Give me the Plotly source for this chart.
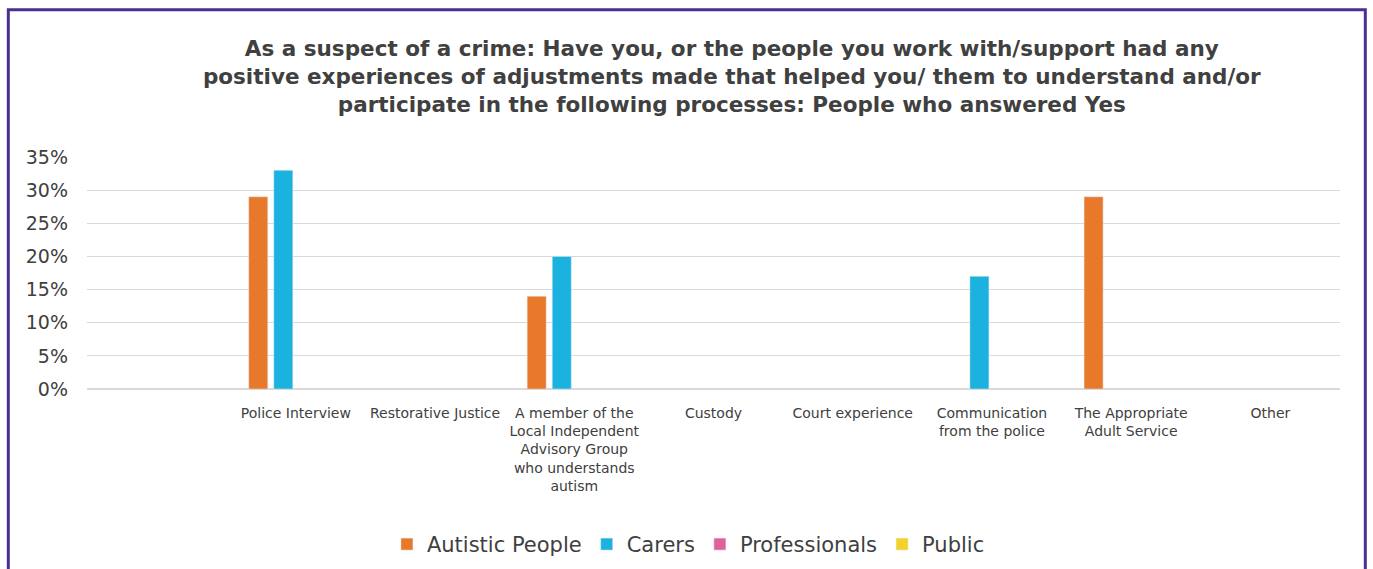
# positive experiences of adjustments - suspect of a crime

import plotly.graph_objects as go

categories = [
    ' ',
    'Police Interview',
    'Restorative Justice',
    'A member of the<br>Local Independent<br>Advisory Group<br>who understands<br>autism',
    'Custody',
    'Court experience',
    'Communication<br>from the police',
    'The Appropriate<br>Adult Service',
    'Other',
]

autistic = [None, 29, None, 14, None, None, None, 29, None]
carers = [None, 33, None, 20, None, None, 17, None, None]
professionals = [None] * 9
public = [None] * 9

series = {
    'Autistic People': (autistic, '#e8782a'),
    'Carers': (carers, '#1bb2e0'),
    'Professionals': (professionals, '#e0609a'),
    'Public': (public, '#f3d22a'),
}

fig = go.Figure()
for name, (vals, col) in series.items():
    fig.add_trace(
        go.Bar(x=categories, y=vals, name=name, marker_color=col)
    )

title = ('As a suspect of a crime: Have you, or the people you work with/support had any<br>'
         'positive experiences of adjustments made that helped you/ them to understand and/or<br>'
         'participate in the following processes: People who answered Yes')

fig.update_layout(
    width=1373, height=569,
    margin=dict(l=87, r=33, t=157, b=180, autoexpand=False),
    paper_bgcolor='white', plot_bgcolor='white',
    font=dict(family='DejaVu Sans', color='#404040'),
    title=dict(text='<b>' + title + '</b>', x=0.533, xanchor='center',
               y=0.902, yanchor='middle', font=dict(size=21.5, color='#404040')),
    barmode='group', bargap=0.28, bargroupgap=0.24,
    showlegend=True,
    legend=dict(orientation='h', x=0.48, xanchor='center', y=-0.67, yanchor='middle',
                font=dict(size=21, color='#404040'), itemwidth=30),
    xaxis=dict(type='category', tickfont=dict(size=14, color='#404040'),
               showgrid=False, ticks='', showline=False, ticklabelstandoff=14,
               automargin=False),
    yaxis=dict(range=[0, 35], dtick=5, ticksuffix='%', showgrid=True,
               gridcolor='#d9d9d9', gridwidth=1, zeroline=True, zerolinecolor='#d9d9d9',
               tickfont=dict(size=19, color='#404040'), ticklabelstandoff=18,
               automargin=False),
    shapes=[dict(type='rect', xref='paper', yref='paper',
                 x0=-0.0628, x1=1.0202, y0=1.635, y1=-0.95,
                 line=dict(color='#4b2e91', width=3), fillcolor='rgba(0,0,0,0)')],
)

fig.write_html("out.html", config={'displayModeBar': False},
               post_script="document.body.style.margin='0';")
